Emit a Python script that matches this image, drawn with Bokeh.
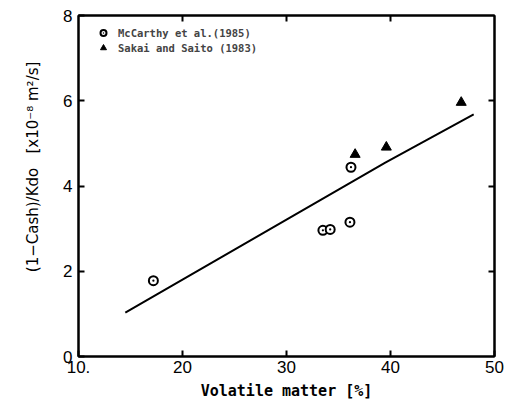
from bokeh.plotting import figure
from bokeh.models import Range1d, LinearAxis, FixedTicker, Legend, LegendItem
from bokeh.embed import file_html
from bokeh.resources import INLINE

# Data
mcc_x = [17.2, 33.5, 34.2, 36.1, 36.2]
mcc_y = [1.78, 2.96, 2.98, 3.15, 4.44]
sakai_x = [36.6, 39.6, 46.8]
sakai_y = [4.74, 4.91, 5.96]
fit_x = [14.5, 39.5, 48.0]
fit_y = [1.03, 4.55, 5.68]

x_ticks = [10, 20, 30, 40, 50]
x_tick_labels = {10: "10.", 20: "20", 30: "30", 40: "40", 50: "50"}
y_ticks = [0, 2, 4, 6, 8]

p = figure(width=507, height=409, output_backend="svg", toolbar_location=None,
           x_range=Range1d(10, 50), y_range=Range1d(0, 8),
           min_border_left=78, min_border_right=13, min_border_top=15, min_border_bottom=53,
           frame_width=416, frame_height=341)
p.xgrid.visible = False
p.ygrid.visible = False
p.outline_line_color = "black"
p.outline_line_width = 2
p.background_fill_color = "white"
p.border_fill_color = "white"

tick_font = "Liberation Sans"
for ax in p.xaxis + p.yaxis:
    ax.major_tick_in = 6
    ax.major_tick_out = 0
    ax.minor_tick_in = 0
    ax.minor_tick_out = 0
    ax.axis_line_width = 2
    ax.major_tick_line_width = 2
    ax.major_label_text_font = tick_font
    ax.major_label_text_font_size = "17px"
    ax.major_label_text_color = "black"
    ax.axis_label_text_color = "black"
    ax.axis_label_text_font = "DejaVu Sans Mono"
    ax.axis_label_text_font_style = "bold"
    ax.axis_label_text_font_size = "15px"

p.xaxis.ticker = FixedTicker(ticks=x_ticks)
p.xaxis.major_label_overrides = x_tick_labels
p.xaxis.major_label_standoff = 4
p.xaxis.axis_label = "Volatile matter [%]"
p.xaxis.axis_label_standoff = 6
p.yaxis.ticker = FixedTicker(ticks=y_ticks)
p.yaxis.major_label_standoff = 6
p.yaxis.axis_label = ("\u00a0\u00a0\u00a0\u00a0\u00a0\u00a0\u00a0\u00a0(1\u2212Cash)/Kdo"
                      "\u00a0\u00a0\u00a0[x10\u207b\u2078 m\u00b2/s]")
p.yaxis.axis_label_text_font = "DejaVu Sans"
p.yaxis.axis_label_text_font_style = "normal"
p.yaxis.axis_label_text_font_size = "15px"
p.yaxis.axis_label_standoff = 18

top = LinearAxis(ticker=FixedTicker(ticks=[20, 30, 40]), major_label_text_alpha=0,
                 major_label_text_font_size="1px", major_tick_in=6, major_tick_out=0,
                 minor_tick_in=0, minor_tick_out=0, axis_line_width=2, major_tick_line_width=2)
right = LinearAxis(ticker=FixedTicker(ticks=[2, 4, 6]), major_label_text_alpha=0,
                   major_label_text_font_size="1px", major_tick_in=6, major_tick_out=0,
                   minor_tick_in=0, minor_tick_out=0, axis_line_width=2, major_tick_line_width=2)
p.add_layout(top, "above")
p.add_layout(right, "right")

fit = p.line(fit_x, fit_y, line_color="black", line_width=2)
r1 = p.scatter(mcc_x, mcc_y, marker="circle_dot", size=9, line_color="black", line_width=2,
               fill_color="white")
r2 = p.scatter(sakai_x, sakai_y, marker="triangle", size=10, line_color="black", fill_color="black")

legend = Legend(items=[LegendItem(label="McCarthy et al.(1985)", renderers=[r1]),
                       LegendItem(label="Sakai and Saito (1983)", renderers=[r2])],
                location="top_left", margin=0, padding=10, glyph_width=30, glyph_height=15,
                label_height=15, spacing=0, label_standoff=-5,
                label_text_font="DejaVu Sans Mono", label_text_font_style="bold",
                label_text_font_size="10.5px", border_line_alpha=0, background_fill_alpha=0)
p.add_layout(legend)

open("out.html", "w").write(file_html(p, INLINE))
